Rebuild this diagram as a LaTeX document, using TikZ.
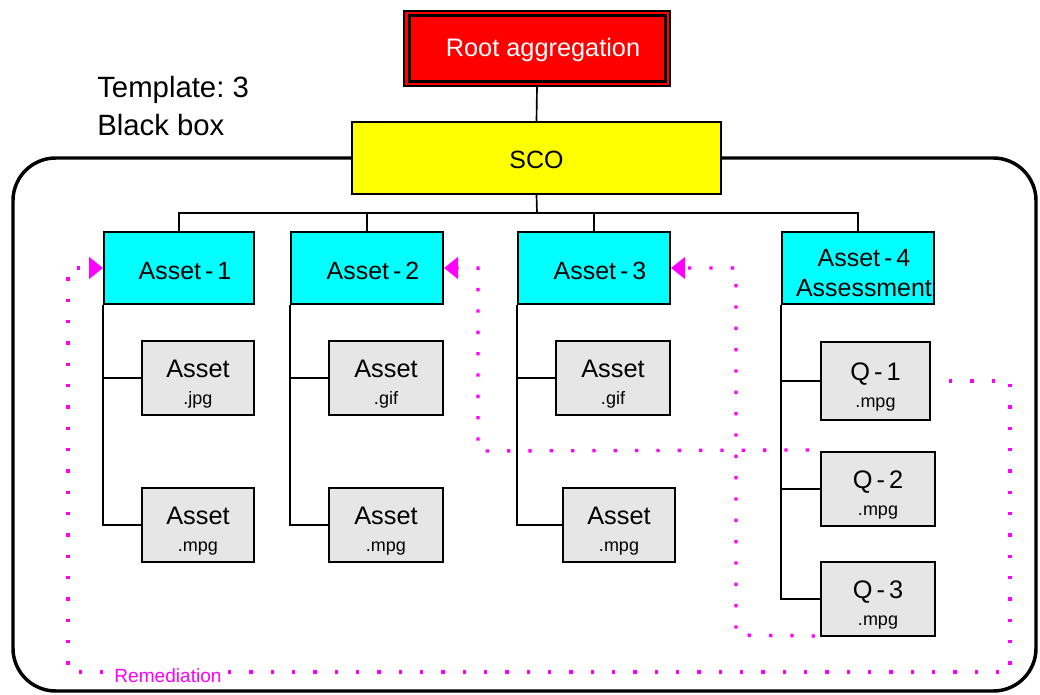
\documentclass[tikz,border=0pt]{standalone}
\usepackage{fontspec}
\setmainfont{Liberation Sans}
\usetikzlibrary{arrows.meta,calc}
\definecolor{mag}{HTML}{FF00FF}
\definecolor{cya}{HTML}{00FFFF}
\definecolor{yel}{HTML}{FFFF00}
\definecolor{lgray}{HTML}{E6E6E6}
\frenchspacing
\begin{document}
\begin{tikzpicture}[x=0.75pt,y=-0.75pt,
  boxline/.style={draw=black,line width=1.5pt,inner sep=0pt,align=center},
  cbox/.style={boxline,fill=cya,minimum width=114pt,minimum height=54pt,font=\fontsize{18.7}{22.5}\selectfont},
  gbox/.style={boxline,fill=lgray,minimum width=85.5pt,minimum height=55.5pt,font=\fontsize{19}{20.25}\selectfont},
  conn/.style={draw=black,line width=1.25pt},
  remed/.style={draw=mag,line width=2.5pt,dash pattern=on 2.5pt off 13.5pt,-{Triangle[length=10.5pt,width=16pt]}}
]
\useasboundingbox (0,0) rectangle (1040,695);
\newcommand{\ex}[1]{{\fontsize{13.5}{14}\selectfont .#1}}
\newcommand{\hy}{\kern3pt-\kern3pt}
\newcommand{\pad}{\hspace*{9pt}}
\newcommand{\up}[1]{\rule{0pt}{#1}}

% root
\node[draw=black,line width=1pt,fill=red,minimum width=199.5pt,minimum height=56.25pt,inner sep=0pt,text=white,font=\fontsize{19}{22}\selectfont] (root) at (537,48.5) {\pad\up{16pt}Root aggregation};
\draw[line width=2.25pt] ($(root.north west)+(6,5.5)$) rectangle ($(root.south east)+(-5.5,-5)$);

% SCO
\node[boxline,fill=yel,minimum width=276.75pt,minimum height=54pt,font=\fontsize{18.7}{22}\selectfont] (sco) at (536.5,158) {\up{16pt}SCO};

% template label
\node[anchor=north west,inner sep=0pt,align=left,font=\fontsize{22}{28.5}\selectfont] (tpl) at (97,76) {Template: 3\\Black box};

% level 1
\node[cbox,minimum width=112.5pt] (a1) at (179,268) {\pad\up{18pt}Asset\hy 1};
\node[cbox] (a2) at (367,268) {\pad\up{18pt}Asset\hy 2};
\node[cbox] (a3) at (594,268) {\pad\up{18pt}Asset\hy 3};
\node[cbox] (a4) at (858,268) {\pad\up{20pt}Asset\hy 4\\\pad Assessment};

% children
\node[gbox,minimum width=84pt] (a1c1) at (198,378) {\up{22pt}Asset\\\ex{jpg}};
\node[gbox,minimum width=84pt] (a1c2) at (198,525) {\up{22pt}Asset\\\ex{mpg}};
\node[gbox] (a2c1) at (386,378) {\up{22pt}Asset\\\ex{gif}};
\node[gbox] (a2c2) at (386,525) {\up{22pt}Asset\\\ex{mpg}};
\node[gbox] (a3c1) at (613,378) {\up{22pt}Asset\\\ex{gif}};
\node[gbox,minimum width=84pt] (a3c2) at (619,525) {\up{22pt}Asset\\\ex{mpg}};
\node[gbox,minimum width=81.75pt,minimum height=58.5pt] (q1) at (875.5,381) {\up{22pt}Q\hy 1\\\ex{mpg}};
\node[gbox] (q2) at (878,489) {\up{22pt}Q\hy 2\\\ex{mpg}};
\node[gbox] (q3) at (878,599) {\up{22pt}Q\hy 3\\\ex{mpg}};

% outer black box
\draw[line width=2.6pt,rounded corners=32pt] (sco.west) -- (13,158) -- (13,691) -- (1036,691) -- (1036,158) -- (sco.east);

% tree connectors
\coordinate (bus) at (537,213);
\draw[conn] (root.south) -- (sco.north);
\draw[conn] (sco.south) -- (bus);
\draw[conn] (a1.north) -- (a1.north |- bus) -- (a4.north |- bus) -- (a4.north);
\draw[conn] (a2.north) -- (a2.north |- bus);
\draw[conn] (a3.north) -- (a3.north |- bus);

\draw[conn] (a1.south west) -- (a1.south west |- a1c2.west) -- (a1c2.west);
\draw[conn] (a1.south west |- a1c1.west) -- (a1c1.west);
\draw[conn] (a2.south west) -- (a2.south west |- a2c2.west) -- (a2c2.west);
\draw[conn] (a2.south west |- a2c1.west) -- (a2c1.west);
\draw[conn] (a3.south west) -- (a3.south west |- a3c2.west) -- (a3c2.west);
\draw[conn] (a3.south west |- a3c1.west) -- (a3c1.west);
\draw[conn] (a4.south west) -- (a4.south west |- q3.west) -- (q3.west);
\draw[conn] (a4.south west |- q1.west) -- (q1.west);
\draw[conn] (a4.south west |- q2.west) -- (q2.west);

% remediation paths
\coordinate (sA) at ($(q1.east)+(18,0)$);
\coordinate (sB) at ($(q2.north west)+(-11,-1)$);
\coordinate (sC) at ($(q3.south west)+(-5,-1)$);
\draw[remed] (sA) -- (1010,381) -- (1010,672) -- (68,672) -- (68,268) -- (a1.west);
\draw[remed] (sB) -- (478,451) -- (478,268) -- (a2.east);
\draw[remed] (sC) -- (736,635) -- (736,268) -- (a3.east);
\node[fill=white,inner sep=2pt,text=mag,font=\fontsize{14.3}{16}\selectfont] (rem) at (168,676) {Remediation};
\end{tikzpicture}
\end{document}
